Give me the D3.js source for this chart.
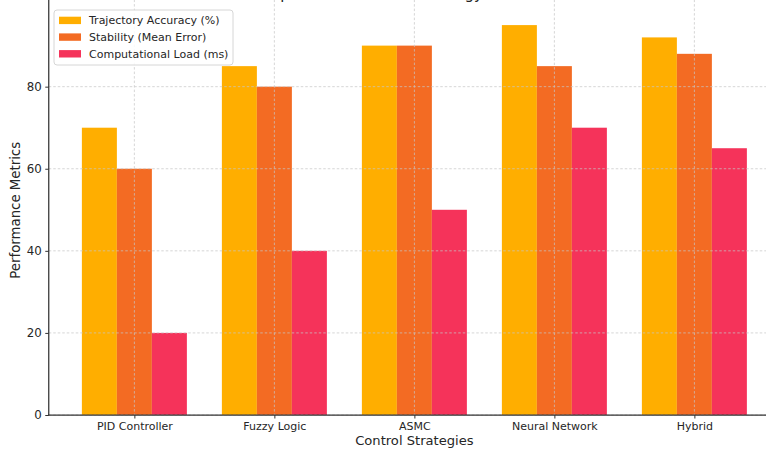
<!DOCTYPE html>
<html>
<head>
<meta charset="utf-8">
<script src="https://cdn.jsdelivr.net/npm/d3@7"></script>
<style>
  html, body { margin: 0; padding: 0; background: #fff; }
  svg { display: block; font-family: "DejaVu Sans", sans-serif; }
</style>
</head>
<body>
<svg id="chart" width="766" height="450"></svg>
<script>
// Control strategies on the x axis
const categories = ["PID Controller", "Fuzzy Logic", "ASMC", "Neural Network", "Hybrid"];
// Metric series, one value per strategy
const seriesNames = ["Trajectory Accuracy (%)", "Stability (Mean Error)", "Computational Load (ms)"];
const trajectoryAccuracy = [70, 85, 90, 95, 92];
const stability = [60, 80, 90, 85, 88];
const computationalLoad = [20, 40, 50, 70, 65];
const yTicks = [0, 20, 40, 60, 80];

const seriesValues = [trajectoryAccuracy, stability, computationalLoad];
const colors = ["#FFAE00", "#F36B23", "#F5335A"];

const svg = d3.select("#chart");
const plot = { left: 48.75, right: 780, top: 5.6, bottom: 415 };

// Category bands: 0.75 of each slot holds the three bars
const x = d3.scaleBand()
  .domain(categories)
  .range([plot.left, plot.right])
  .paddingInner(0.25)
  .paddingOuter(0.2366);

const xSub = d3.scaleBand()
  .domain(seriesNames)
  .range([0, x.bandwidth()]);

const y = d3.scaleLinear()
  .domain([0, 99.75])
  .range([plot.bottom, plot.top]);

// Bars
const groups = svg.append("g").selectAll("g")
  .data(categories)
  .join("g")
  .attr("transform", d => `translate(${x(d)},0)`);

groups.selectAll("rect")
  .data((d, i) => seriesNames.map((s, j) => ({ s, j, v: seriesValues[j][i] })))
  .join("rect")
  .attr("x", d => xSub(d.s))
  .attr("width", xSub.bandwidth())
  .attr("y", d => y(d.v))
  .attr("height", d => y(0) - y(d.v))
  .attr("fill", d => colors[d.j]);

// Dashed grid drawn over the bars
const grid = svg.append("g").attr("stroke", "#c8c8c8").attr("stroke-width", 0.8)
  .attr("stroke-dasharray", "2.5,2").attr("opacity", 0.9);
grid.selectAll("line.h")
  .data(yTicks)
  .join("line")
  .attr("class", "h")
  .attr("x1", plot.left).attr("x2", plot.right)
  .attr("y1", d => y(d)).attr("y2", d => y(d));
grid.selectAll("line.v")
  .data(categories)
  .join("line")
  .attr("class", "v")
  .attr("x1", d => x(d) + x.bandwidth() / 2).attr("x2", d => x(d) + x.bandwidth() / 2)
  .attr("y1", plot.top - 6).attr("y2", plot.bottom);

// Axes
const xCenter = d3.scalePoint()
  .domain(categories)
  .range([x(categories[0]) + x.bandwidth() / 2, x(categories[categories.length - 1]) + x.bandwidth() / 2]);

const xAxis = svg.append("g")
  .attr("transform", `translate(0,${plot.bottom})`)
  .call(d3.axisBottom(xCenter).tickSize(3.5).tickPadding(3.5));
xAxis.select(".domain").remove();
xAxis.selectAll("text").attr("font-size", 11).attr("fill", "#262626").attr("font-family", "DejaVu Sans");
xAxis.selectAll("line").attr("stroke", "#333").attr("stroke-width", 1);

const yAxis = svg.append("g")
  .attr("transform", `translate(${plot.left},0)`)
  .call(d3.axisLeft(y).tickValues(yTicks).tickFormat(d3.format("d")).tickSize(3.5).tickPadding(3.5));
yAxis.select(".domain").remove();
yAxis.selectAll("text").attr("font-size", 11.8).attr("fill", "#262626").attr("font-family", "DejaVu Sans");
yAxis.selectAll("line").attr("stroke", "#333").attr("stroke-width", 1);

// Spines
svg.append("line")
  .attr("x1", plot.left).attr("x2", plot.left)
  .attr("y1", 0).attr("y2", plot.bottom + 0.6)
  .attr("stroke", "#333").attr("stroke-width", 1.25);
svg.append("line")
  .attr("x1", plot.left - 0.6).attr("x2", plot.right)
  .attr("y1", plot.bottom).attr("y2", plot.bottom)
  .attr("stroke", "#333").attr("stroke-width", 1.25);

// Axis titles
svg.append("text")
  .attr("x", (plot.left + plot.right) / 2).attr("y", 445)
  .attr("text-anchor", "middle").attr("font-size", 13.1).attr("fill", "#262626")
  .text("Control Strategies");
svg.append("text")
  .attr("transform", `translate(20,${(plot.top + plot.bottom) / 2}) rotate(-90)`)
  .attr("text-anchor", "middle").attr("font-size", 13.3).attr("fill", "#262626")
  .text("Performance Metrics");

// Chart title, sitting above the top edge
svg.append("text")
  .attr("x", (plot.left + plot.right) / 2).attr("y", -1.5)
  .attr("text-anchor", "middle").attr("font-size", 15).attr("fill", "#222")
  .text("Comparison of Control Strategy Performance");

// Legend
const legend = svg.append("g").attr("transform", "translate(54,10)");
legend.append("rect")
  .attr("width", 179).attr("height", 55).attr("rx", 3)
  .attr("fill", "#fff").attr("fill-opacity", 0.85)
  .attr("stroke", "#d6d6d6").attr("stroke-width", 1);
const items = legend.selectAll("g.item")
  .data(seriesNames)
  .join("g")
  .attr("class", "item")
  .attr("transform", (d, i) => `translate(5,${6.7 + i * 16.7})`);
items.append("rect")
  .attr("width", 22).attr("height", 7.4)
  .attr("fill", (d, i) => colors[i]);
items.append("text")
  .attr("x", 30).attr("y", 3.7).attr("dy", "0.35em")
  .attr("font-size", 11).attr("fill", "#262626")
  .text(d => d);
</script>
</body>
</html>
